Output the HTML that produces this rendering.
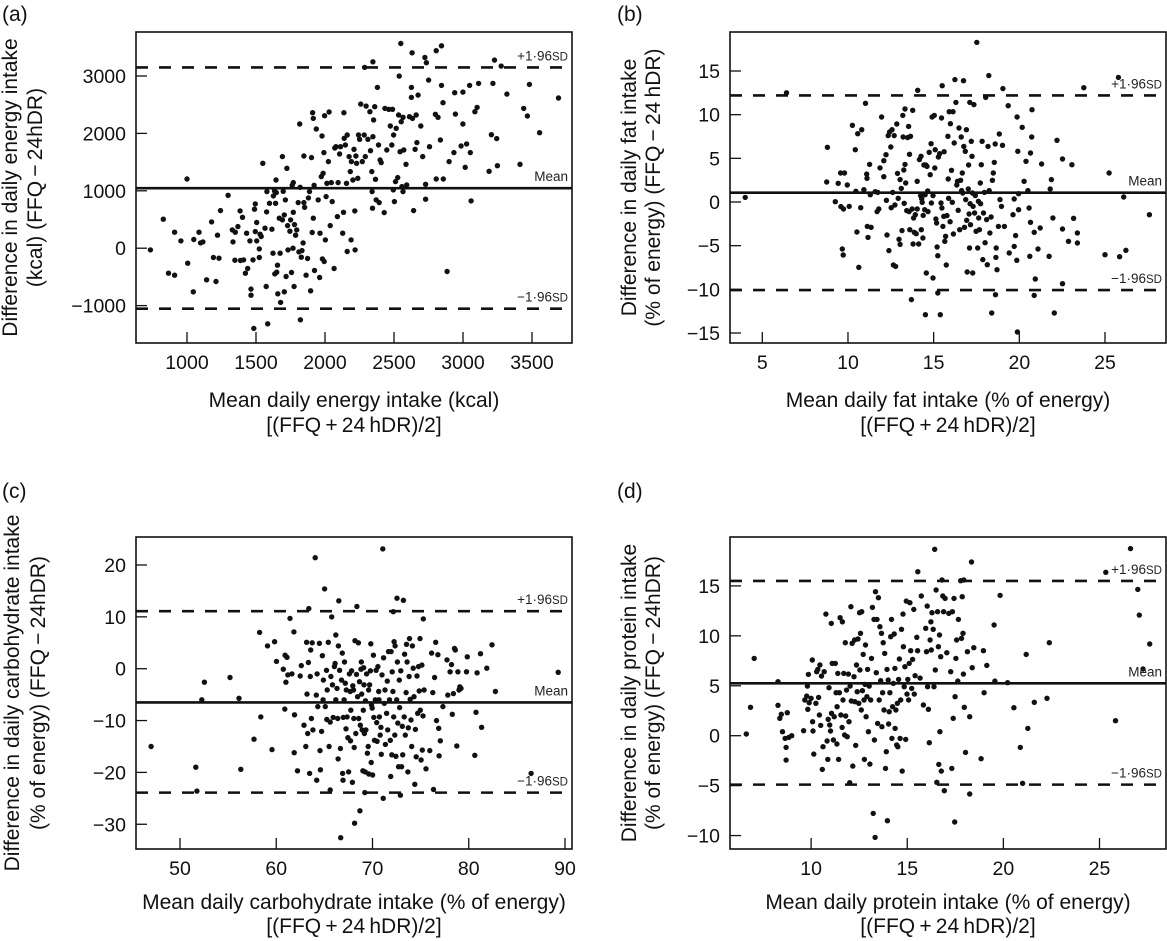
<!DOCTYPE html>
<html><head><meta charset="utf-8"><style>
html,body{margin:0;padding:0;background:#fff;}
svg{display:block;font-family:"Liberation Sans",Arial,sans-serif;}
</style></head><body>
<svg id="fig" width="1167" height="941" viewBox="0 0 1167 941" xmlns="http://www.w3.org/2000/svg"></svg>
<script>
// ---------- DATA ----------
const aX=[735,828,866,910,910,956,1005,1000,1046,1049,1087,1098,1115,1142,1178,1191,1210,1221,1232,1243,1298,1328,1333,1350,1369,1347,1385,1388,1402,1410,1423,1432,1440,1456,1464,1464,1478,1484,1489,1495,1495,1505,1505,1524,1524,1530,1538,1549,1565,1574,1577,1579,1585,1598,1615,1623,1626,1634,1636,1642,1647,1656,1645,1650,1658,1669,1675,1678,1691,1691,1697,1705,1705,1713,1718,1724,1729,1732,1746,1751,1757,1762,1768,1770,1770,1776,1779,1787,1795,1806,1811,1817,1820,1822,1828,1833,1841,1847,1847,1852,1863,1874,1880,1888,1896,1902,1907,1910,1915,1915,1921,1924,1937,1951,1961,1964,1973,1978,1981,1986,1992,1994,1997,2003,2008,2014,2025,2030,2038,2046,2052,2066,2071,2079,2090,2095,2106,2112,2128,2134,2137,2139,2148,2156,2161,2161,2175,2183,2189,2191,2202,2210,2216,2218,2224,2229,2238,2243,2251,2259,2270,2284,2287,2292,2298,2311,2325,2330,2339,2341,2344,2347,2347,2352,2360,2366,2371,2380,2388,2393,2399,2407,2429,2434,2448,2462,2473,2484,2489,2495,2497,2503,2511,2516,2527,2533,2538,2544,2549,2552,2557,2565,2565,2571,2587,2592,2612,2626,2626,2631,2634,2642,2653,2661,2666,2675,2694,2708,2724,2729,2729,2735,2751,2757,2806,2800,2819,2806,2844,2844,2855,2836,2857,2885,2899,2940,2934,2945,2999,2999,2986,3016,3026,3048,3053,3059,3086,3102,3113,3189,3206,3217,3228,3244,3249,3277,3318,3413,3440,3467,3481,3555,3692];
const aY=[-29,505,-435,-470,278,128,-261,1206,-760,151,278,93,110,-551,458,-162,-580,226,-174,655,922,319,110,278,377,-209,650,-215,539,-203,-435,261,-354,128,-713,-818,-203,-1398,679,290,771,447,128,-12,-162,244,203,1479,348,-667,632,986,-1317,783,331,-87,911,998,-447,783,969,-296,1189,-418,-795,522,-87,-945,1595,493,992,580,-760,841,-493,1392,394,-29,296,493,-423,1096,0,1142,626,-667,412,226,319,794,-64,2163,1061,-1247,-157,-41,93,794,1607,713,-470,-180,876,986,-742,1578,273,2361,2262,522,1096,-389,2077,841,-510,261,1247,1955,-186,1305,1665,-232,2308,145,899,1131,1508,2372,394,1142,812,-354,1746,1769,551,1142,1641,1769,261,626,2361,1914,1798,1131,1972,-58,1595,1334,145,1508,1189,1723,650,-29,1607,1479,1218,1972,1897,2511,1508,1972,3149,1595,2476,1897,2378,1699,1334,986,696,3248,1943,2233,2465,1200,841,2801,1798,794,1537,1491,620,2436,1711,2419,2129,1798,2419,1015,1972,812,1160,2088,1230,2320,2999,1682,3567,2204,1073,2280,986,1711,1462,1102,2291,2627,2801,3405,2262,655,1723,2320,1839,2668,2129,1595,3323,1114,853,3231,2929,1769,3440,2332,2280,1206,3527,2836,2534,1885,1206,-406,1508,2709,1665,2337,2720,2163,1781,1409,1816,2836,1665,824,2378,2453,2871,1340,1978,2871,3277,1909,1438,3173,2685,1462,2436,2303,2854,2013,2616];
const aRef=[3150,1045,-1054];
const aXTicks=[1000,1500,2000,2500,3000,3500];
const aYTicks=[-1000,0,1000,2000,3000];

const bX=[4.0,6.41,8.8,8.76,9.26,9.43,9.57,9.59,9.67,9.72,9.74,9.8,9.96,10.07,10.26,10.43,10.46,10.52,10.57,10.63,10.74,10.8,10.93,11.02,11.09,11.11,11.13,11.17,11.26,11.3,11.35,11.59,11.7,11.74,11.8,11.87,11.96,12.09,12.09,12.22,12.24,12.28,12.39,12.35,12.43,12.5,12.52,12.57,12.61,12.65,12.7,12.74,12.78,12.85,12.89,12.93,12.98,13.04,13.04,13.11,13.15,13.2,13.22,13.26,13.28,13.33,13.33,13.37,13.43,13.48,13.54,13.57,13.59,13.61,13.65,13.7,13.74,13.78,13.8,13.83,13.87,13.93,13.98,14.04,14.04,14.07,14.13,14.17,14.24,14.26,14.28,14.3,14.33,14.37,14.39,14.43,14.48,14.5,14.52,14.54,14.57,14.61,14.65,14.67,14.74,14.8,14.85,14.87,14.91,14.96,14.96,15.04,15.07,15.09,15.13,15.17,15.2,15.24,15.24,15.28,15.35,15.39,15.43,15.46,15.48,15.5,15.54,15.59,15.61,15.65,15.7,15.74,15.78,15.83,15.85,15.87,15.91,15.96,15.98,16.04,16.09,16.13,16.15,16.2,16.24,16.3,16.35,16.39,16.43,16.48,16.52,16.57,16.61,16.63,16.67,16.7,16.74,16.76,16.8,16.85,16.87,16.91,16.93,16.96,17.02,17.04,17.07,17.09,17.11,17.13,17.15,17.2,17.24,17.26,17.28,17.3,17.35,17.39,17.43,17.48,17.52,17.57,17.61,17.63,17.67,17.72,17.74,17.78,17.83,17.87,17.91,17.96,18.0,18.04,18.09,18.13,18.17,18.22,18.24,18.28,18.35,18.39,18.43,18.48,18.54,18.59,18.61,18.63,18.65,18.7,18.78,18.83,18.87,18.96,19.02,19.04,19.13,19.35,19.41,19.63,19.7,19.7,19.78,19.85,19.87,19.91,19.89,19.96,19.96,20.17,20.28,20.39,20.5,20.57,20.61,20.65,20.65,20.74,20.72,20.87,20.87,20.93,21.09,21.22,21.3,21.74,21.8,21.87,21.96,22.04,22.2,22.52,22.52,22.52,22.87,23.07,23.17,23.39,23.39,23.76,25.0,25.24,25.78,25.85,26.09,26.22,27.59];
const bY=[0.53,12.5,6.26,2.29,0.04,2.14,3.32,-0.53,-5.38,-6.07,-0.8,3.32,1.95,-0.5,8.78,5.99,1.22,-3.44,7.82,-7.48,-0.65,8.28,1.41,11.3,3.2,2.71,-2.79,-4.05,4.31,0.84,-2.9,1.18,-1.1,1.1,-0.8,3.9,9.73,4.73,2.9,5.42,0.19,-3.78,-5.57,7.6,8.02,6.3,-0.65,8.28,1.1,-7.21,7.6,-0.34,-7.37,8.93,3.28,0.42,-4.27,2.56,-4.85,1.56,-3.28,9.92,7.44,3.66,-0.15,10.65,4.31,2.18,-0.99,7.37,8.66,-1.1,5.46,-3.17,7.52,-11.18,-0.8,10.5,-4.81,-1.83,-3.47,-1.45,-3.63,2.37,-0.8,12.79,-4.81,4.85,0.73,5.23,-3.17,0.38,-0.04,-4.12,-1.53,4.24,-0.88,0.84,-12.9,4.24,-8.13,4.08,1.26,-1.1,5.69,3.13,6.68,-0.11,9.73,0.73,-8.7,9.92,3.89,5.99,-1.95,-2.4,-5.15,-6.15,-10.42,5.15,5.53,-12.9,-0.11,9.62,-0.69,13.32,-2.79,-1.64,5.76,-4.5,-3.93,-7.21,-1.56,7.52,2.63,0.42,10.34,-2.25,8.97,3.63,-0.04,10.34,-3.66,6.76,14.01,11.41,1.95,2.37,-0.95,8.47,-3.17,2.48,7.44,1.3,3.32,1.03,13.89,6.37,-2.9,5.8,0.27,8.28,-2.1,-8.02,1.49,4.24,-1.37,-5.27,11.41,-0.19,-2.6,6.95,5.23,1.03,-8.13,-0.5,11.15,-1.26,0.73,-3.36,18.28,-5.27,0.08,-1.83,-3.17,2.18,-0.19,4.27,6.95,-6.6,-1.26,1.1,-4.66,11.98,-2.02,-7.18,6.37,14.47,1.3,-3.55,-1.72,-12.71,2.48,3.32,4.54,6.64,-10.61,-6.34,-5.27,-7.75,-2.79,7.79,0.27,-0.5,6.49,12.98,-2.79,11.03,-5.84,-1.45,0.34,-5.08,-3.85,-6.68,9.73,5.8,-14.89,-0.88,0.95,8.55,2.37,4.66,1.3,-0.69,-6.22,5.61,-2.33,10.57,7.44,-3.47,-10.69,-8.82,-5.38,-2.98,4.35,-6.22,1.49,2.56,-1.83,-12.71,7.06,4.92,-3.09,-9.35,-4.5,4.27,-1.87,-3.55,-4.69,13.09,-6.03,3.32,14.27,-6.26,0.57,-5.53,-1.45];
const bRef=[12.2,1.07,-10.08];
const bXTicks=[5,10,15,20,25];
const bYTicks=[-15,-10,-5,0,5,10,15];

const cX=[47.0,51.64,51.76,52.26,52.54,55.19,56.13,56.32,57.69,58.27,58.39,59.09,59.56,59.83,60.03,60.73,60.89,60.92,61.0,61.12,61.2,61.43,61.63,61.83,61.86,61.9,62.21,62.49,62.6,62.88,63.07,63.15,63.19,63.27,63.34,63.38,63.46,63.54,63.58,63.65,63.73,63.81,64.05,64.16,64.2,64.24,64.32,64.48,64.55,64.59,64.71,64.79,64.87,64.9,65.02,65.1,65.22,65.25,65.29,65.41,65.49,65.61,65.61,65.68,65.76,65.84,65.92,66.04,66.11,66.19,66.19,66.31,66.38,66.43,66.46,66.5,66.58,66.66,66.7,66.78,66.86,66.89,66.93,66.97,67.05,67.09,67.17,67.25,67.28,67.36,67.44,67.52,67.6,67.68,67.71,67.75,67.83,67.91,67.95,68.03,68.06,68.1,68.14,68.18,68.26,68.34,68.38,68.45,68.53,68.57,68.65,68.69,68.73,68.81,68.84,68.88,68.92,69.0,69.04,69.08,69.12,69.16,69.2,69.24,69.27,69.31,69.39,69.47,69.55,69.59,69.62,69.7,69.78,69.82,69.86,69.9,69.97,70.01,70.09,70.13,70.21,70.29,70.37,70.44,70.48,70.56,70.64,70.68,70.72,70.8,70.87,70.91,70.99,71.07,71.11,71.15,71.23,71.3,71.34,71.46,71.54,71.58,71.66,71.77,71.85,71.89,71.93,72.01,72.05,72.12,72.16,72.2,72.24,72.32,72.35,72.43,72.51,72.55,72.59,72.63,72.71,72.78,72.82,72.9,72.94,73.02,73.1,73.14,73.21,73.29,73.33,73.41,73.49,73.53,73.6,73.68,73.72,73.8,73.84,73.92,74.0,74.07,74.15,74.23,74.31,74.39,74.46,74.54,74.62,74.7,74.78,74.85,74.93,74.97,75.05,75.13,75.17,75.25,75.28,75.36,75.56,75.95,76.14,76.26,76.34,76.45,76.57,76.65,76.8,76.88,76.92,77.04,77.31,77.74,77.82,78.06,78.21,78.29,78.41,78.52,78.6,78.76,78.87,78.99,79.07,79.19,79.77,79.85,80.75,80.63,80.87,81.22,81.33,81.88,82.42,82.77,86.48,89.29];
const cY=[-15.0,-19.0,-23.6,-6.0,-2.6,-1.7,-5.7,-19.4,-13.6,7.0,-9.3,4.4,-15.6,5.2,1.4,-0.1,-7.8,2.6,-2.6,2.2,-1.2,9.7,-1.0,7.1,-16.2,-8.9,-19.7,-1.4,0.6,-10.9,-15.0,5.1,-4.9,-12.5,1.2,11.6,-20.2,-1.5,3.6,-9.6,5.0,-11.8,21.4,-5.1,-21.5,-1.0,-7.3,4.9,-15.8,-19.5,-12.1,2.5,-6.0,-2.2,15.4,-7.3,-0.3,-9.8,-4.1,5.1,-15.0,-23.4,-10.3,-1.5,10.0,-3.1,-9.4,0.4,1.0,-6.0,6.5,-3.8,-9.6,-17.4,4.4,13.1,-0.3,-15.4,-32.6,-2.2,3.0,-20.2,-21.5,-9.4,-6.0,1.3,-2.8,-11.6,-4.1,-9.3,-13.3,-19.9,-1.0,-4.4,-13.9,-8.0,-0.4,-21.9,-3.3,-4.1,-9.6,-15.2,-29.8,5.4,-12.5,-1.1,12.0,-5.4,5.0,-9.6,-2.5,-27.4,-10.9,-0.1,1.3,-4.9,-11.8,-19.7,-8.0,0.2,-3.1,-12.5,-23.9,-19.9,-6.2,-11.8,-1.0,-16.3,-15.0,-4.1,-20.3,-3.1,-0.4,4.8,-18.1,-7.0,-7.6,-20.5,2.6,-9.4,-13.8,-6.0,-0.3,-10.4,-14.0,0.4,-4.4,-6.0,-9.3,-12.8,-11.3,-16.5,-1.2,23.1,-25.0,2.1,-6.7,-4.1,-14.6,-8.6,-2.4,-11.8,3.3,-6.0,-13.8,-20.8,3.3,-16.6,-0.6,-4.4,11.0,-9.3,5.2,-12.8,4.4,-16.9,-6.0,13.6,1.3,-10.5,-18.9,-2.2,-7.5,-24.4,-0.4,-18.9,-11.1,-16.6,13.2,-9.3,2.8,-12.8,-4.6,4.7,1.3,-19.9,-11.4,-1.5,5.8,-5.9,-9.9,-15.0,4.4,0.1,-5.4,-22.3,-11.7,-17.0,-1.4,-8.6,0.4,-4.3,5.8,-8.0,-17.6,0.7,-15.7,-9.1,9.6,-4.1,-19.3,-15.8,3.0,-4.6,-23.3,-1.7,5.1,-10.0,2.7,-11.5,-16.8,-13.9,-7.3,1.7,-5.1,-0.6,0.8,-8.8,-4.8,3.9,3.6,-14.9,-0.6,-4.1,-3.5,-3.8,-0.6,2.3,-8.4,-16.7,-0.8,2.9,-11.3,0.1,4.6,-4.4,-20.2,-0.7];
const cRef=[11.1,-6.5,-23.9];
const cXTicks=[50,60,70,80,90];
const cYTicks=[-30,-20,-10,0,10,20];

const dX=[6.63,6.85,7.04,8.28,8.28,8.37,8.45,8.51,8.65,8.7,8.7,8.76,8.84,8.99,9.61,9.67,9.77,9.81,9.83,9.86,9.9,10.0,10.06,10.08,10.1,10.14,10.25,10.29,10.35,10.39,10.43,10.46,10.5,10.54,10.58,10.62,10.68,10.77,10.83,10.87,10.89,10.93,10.97,11.01,11.05,11.06,11.1,11.16,11.2,11.26,11.3,11.34,11.35,11.39,11.43,11.47,11.51,11.55,11.61,11.63,11.66,11.7,11.74,11.78,11.8,11.84,11.88,11.94,11.97,12.01,12.03,12.07,12.09,12.13,12.17,12.23,12.26,12.28,12.32,12.36,12.4,12.44,12.48,12.52,12.54,12.57,12.61,12.63,12.67,12.71,12.75,12.77,12.81,12.83,12.86,12.9,12.94,12.98,13.02,13.06,13.1,13.14,13.19,13.23,13.27,13.29,13.33,13.35,13.39,13.43,13.46,13.5,13.54,13.58,13.62,13.66,13.68,13.72,13.75,13.79,13.83,13.87,13.91,13.95,13.97,14.01,14.03,14.06,14.1,14.14,14.18,14.2,14.24,14.28,14.32,14.36,14.37,14.41,14.45,14.49,14.51,14.55,14.59,14.63,14.66,14.7,14.74,14.78,14.8,14.84,14.88,14.92,14.95,14.99,15.03,15.07,15.1,15.14,15.18,15.23,15.28,15.34,15.37,15.41,15.5,15.54,15.55,15.67,15.73,15.84,15.96,16.0,16.04,16.06,16.1,16.15,16.19,16.23,16.25,16.29,16.35,16.39,16.43,16.46,16.5,16.54,16.58,16.62,16.64,16.68,16.7,16.74,16.77,16.81,16.85,16.89,16.93,16.97,17.06,17.16,17.26,17.32,17.35,17.39,17.43,17.47,17.49,17.53,17.57,17.63,17.66,17.78,17.82,17.86,17.9,17.92,17.94,17.97,18.03,18.13,18.25,18.25,18.34,18.38,18.46,18.84,18.96,19.0,19.14,19.52,19.56,19.83,20.22,20.55,20.88,21.0,21.19,21.27,21.61,22.27,22.39,25.33,25.83,26.61,26.99,27.07,27.26,27.61];
const dY=[0.17,2.84,7.74,5.41,3.04,1.74,2.14,0.4,-0.27,-1.17,-2.44,2.3,-0.17,0.0,0.5,3.57,3.97,4.97,2.64,6.14,3.3,3.74,7.58,1.4,0.47,-1.84,3.24,6.41,6.64,3.84,2.07,7.08,1.03,5.97,-3.37,-1.1,6.41,12.18,-0.53,-2.37,1.64,4.81,1.07,0.47,11.25,2.24,7.24,-0.43,1.9,7.24,4.31,-0.83,2.9,6.24,-2.37,4.31,11.82,2.07,0.83,11.41,3.57,6.24,0.07,9.31,1.97,4.57,-0.1,6.17,1.4,-4.71,4.97,12.92,3.47,9.25,-3.04,5.91,9.58,3.4,-0.97,7.08,4.41,9.68,3.24,12.32,6.58,10.25,2.57,12.42,4.51,8.14,3.57,-2.37,5.14,9.08,1.9,3.91,6.64,0.4,4.97,-2.84,3.57,7.74,12.85,-7.78,11.65,-0.43,-10.18,14.42,6.31,11.65,1.23,13.82,3.57,10.91,5.51,10.25,0.9,4.31,9.31,2.57,8.24,-3.27,-1.6,6.64,-8.51,5.57,1.17,2.4,4.31,9.91,11.65,-0.27,2.9,5.24,10.18,6.74,0.73,2.57,-0.93,3.24,-1.1,5.64,7.68,-0.27,3.57,10.65,-3.54,12.18,8.91,4.91,6.91,-0.37,13.48,4.17,5.64,3.57,7.24,13.32,8.51,4.74,7.64,12.65,4.17,6.01,9.85,8.51,16.42,5.77,13.99,3.07,10.75,8.41,12.98,4.91,2.64,-0.7,9.58,11.41,8.58,12.32,10.65,4.91,18.66,6.58,14.59,-4.67,12.42,8.91,-2.87,10.08,0.4,7.91,-3.54,15.59,13.99,12.42,-5.51,13.75,8.31,12.25,6.41,-3.27,12.42,1.74,13.75,-8.64,3.91,7.74,9.58,5.47,11.65,15.52,9.75,13.92,10.25,6.17,15.59,2.84,-1.67,8.41,1.9,-5.84,17.39,6.81,8.81,-2.3,8.51,4.31,7.04,11.08,5.47,14.05,5.31,2.8,-1.17,-4.77,8.14,0.73,3.34,3.74,9.31,16.36,1.5,18.73,14.65,12.08,6.68,9.18];
const dRef=[15.5,5.25,-4.9];
const dXTicks=[10,15,20,25];
const dYTicks=[-10,-5,0,5,10,15];

// ---------- LAYOUT ----------
const NS='http://www.w3.org/2000/svg';
const svg=document.getElementById('fig');
function mk(tag,attrs,parent){const e=document.createElementNS(NS,tag);for(const k in attrs)e.setAttribute(k,attrs[k]);(parent||svg).appendChild(e);return e;}
function lin(v0,p0,v1,p1){return v=>p0+(v-v0)*(p1-p0)/(v1-v0);}

const panels=[
 {id:'a',letter:'(a)',lx:2,ly:21,box:[136,32,572,343],sx:lin(1000,187,3500,532),sy:lin(0,248.2,3000,76),
  X:aX,Y:aY,ref:aRef,xt:aXTicks,yt:aYTicks,fmt:v=>v<0?'\u2212'+Math.abs(v):String(v),xto:[64,89],
  yl:['Difference in daily energy intake','(kcal) (FFQ\u2009\u2212\u200924hDR)'],ylx:[-119,-94],
  xl:['Mean daily energy intake (kcal)','[(FFQ\u2009+\u200924\u2009hDR)/2]']},
 {id:'b',letter:'(b)',lx:617,ly:21,box:[730,32,1166,343],sx:lin(5,762.3,25,1105),sy:lin(0,202,15,71),
  X:bX,Y:bY,ref:bRef,xt:bXTicks,yt:bYTicks,fmt:v=>v<0?'\u2212'+Math.abs(v):String(v),xto:[64,89],
  yl:['Difference in daily fat intake','(% of energy) (FFQ\u2009\u2212\u200924\u2009hDR)'],ylx:[-94,-70],
  xl:['Mean daily fat intake (% of energy)','[(FFQ\u2009+\u200924\u2009hDR)/2]']},
 {id:'c',letter:'(c)',lx:2,ly:498,box:[136,537,572,849],sx:lin(50,180,90,565),sy:lin(0,668.7,20,565),
  X:cX,Y:cY,ref:cRef,xt:cXTicks,yt:cYTicks,fmt:v=>v<0?'\u2212'+Math.abs(v):String(v),xto:[60,84],
  yl:['Difference in daily carbohydrate intake','(% of energy) (FFQ\u2009\u2212\u200924hDR)'],ylx:[-117,-91],
  xl:['Mean daily carbohydrate intake (% of energy)','[(FFQ\u2009+\u200924\u2009hDR)/2]']},
 {id:'d',letter:'(d)',lx:617,ly:498,box:[730,537,1166,849],sx:lin(10,811.1,25,1099.5),sy:lin(0,735.7,15,585.9),
  X:dX,Y:dY,ref:dRef,xt:dXTicks,yt:dYTicks,fmt:v=>v<0?'\u2212'+Math.abs(v):String(v),xto:[60,84],
  yl:['Difference in daily protein intake','(% of energy) (FFQ\u2009\u2212\u200924hDR)'],ylx:[-94,-70],
  xl:['Mean daily protein intake (% of energy)','[(FFQ\u2009+\u200924\u2009hDR)/2]']}
];

panels.forEach(p=>{
  const g=mk('g',{});
  
  
  const [x0,y0,x1,y1]=p.box;
  const lt=mk('text',{x:p.lx,y:p.ly,'font-size':21,fill:'#111'},g);lt.textContent=p.letter;
  
  
  const pts=mk('g',{fill:'#111'},g);
  
  
  for(let i=0;i<p.X.length;i++){
    const c=mk('circle',{cx:p.sx(p.X[i]).toFixed(1),cy:p.sy(p.Y[i]).toFixed(1),r:2.7},pts);
    
    
  }
  const names=['upper-limit-line','mean-line','lower-limit-line'];
  p.ref.forEach((v,k)=>{
    const yy=p.sy(v);
    const ln=mk('line',{x1:x0,x2:x1,y1:yy,y2:yy,stroke:'#111','stroke-width':2.6},g);
    if(k!==1)ln.setAttribute('stroke-dasharray','12 11');
    
    
    const t=mk('text',{x:x1-4,y:yy-7,'font-size':13.5,'text-anchor':'end',fill:'#222'},g);
    if(k===1){t.textContent='Mean';}
    else{
      const s1=mk('tspan',{},t);s1.textContent=(k===0?'+':'\u2212')+'1\u00b796';
      const s2=mk('tspan',{'font-size':11.5},t);s2.textContent='SD';
    }
    
    
  });
  const r=mk('rect',{x:x0,y:y0,width:x1-x0,height:y1-y0,fill:'none',stroke:'#111','stroke-width':1.6},g);
  
  
  p.xt.forEach(v=>{
    const xx=p.sx(v);
    const tk=mk('line',{x1:xx,x2:xx,y1:y1,y2:y1-11,stroke:'#111','stroke-width':1.3},g);
    
    
    const tl=mk('text',{x:xx,y:y1+26,'font-size':19.5,'text-anchor':'middle',fill:'#111'},g);
    tl.textContent=p.fmt(v);
    
    
  });
  p.yt.forEach(v=>{
    const yy=p.sy(v);
    const tk=mk('line',{x1:x0,x2:x0+11,y1:yy,y2:yy,stroke:'#111','stroke-width':1.3},g);
    
    
    const tl=mk('text',{x:x0-10,y:yy+7,'font-size':19.5,'text-anchor':'end',fill:'#111'},g);
    tl.textContent=p.fmt(v);
    
    
  });
  const cx=(x0+x1)/2, cy=(y0+y1)/2;
  p.xl.forEach((s,k)=>{
    const t=mk('text',{x:cx,y:y1+p.xto[k],'font-size':21,'text-anchor':'middle',fill:'#111'},g);
    t.textContent=s;
    
    
  });
  p.yl.forEach((s,k)=>{
    const bx=x0+p.ylx[k];
    const t=mk('text',{x:bx,y:cy,'font-size':21,'text-anchor':'middle',fill:'#111',transform:'rotate(-90 '+bx+' '+cy+')'},g);
    t.textContent=s;
    
    
  });
});
</script>
</body></html>
